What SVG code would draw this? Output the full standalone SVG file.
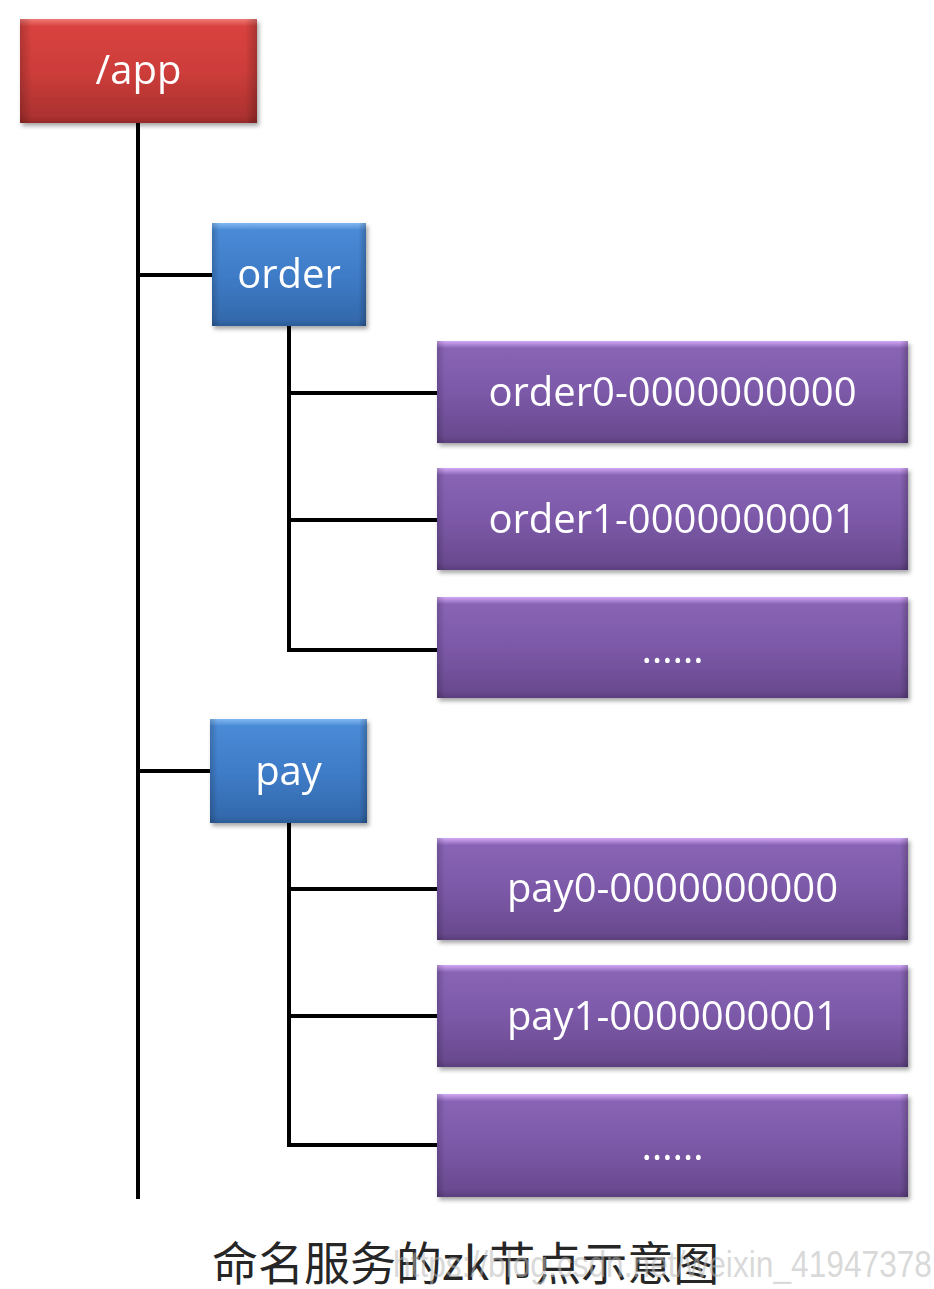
<svg xmlns="http://www.w3.org/2000/svg" width="934" height="1289" viewBox="0 0 934 1289">
  <defs>
    <linearGradient id="gRed" x1="0" y1="0" x2="0" y2="1">
      <stop offset="0" stop-color="#f07a76"/>
      <stop offset="0.07" stop-color="#d9423f"/>
      <stop offset="0.5" stop-color="#cd3d3a"/>
      <stop offset="0.93" stop-color="#ad3230"/>
      <stop offset="1" stop-color="#962a28"/>
    </linearGradient>
    <linearGradient id="gBlue" x1="0" y1="0" x2="0" y2="1">
      <stop offset="0" stop-color="#80b8f0"/>
      <stop offset="0.07" stop-color="#4a8ad6"/>
      <stop offset="0.5" stop-color="#3f7cc8"/>
      <stop offset="0.93" stop-color="#346aae"/>
      <stop offset="1" stop-color="#2c5c98"/>
    </linearGradient>
    <linearGradient id="gPurple" x1="0" y1="0" x2="0" y2="1">
      <stop offset="0" stop-color="#d2a8f6"/>
      <stop offset="0.07" stop-color="#8964b5"/>
      <stop offset="0.5" stop-color="#7c59a8"/>
      <stop offset="0.93" stop-color="#6a4a90"/>
      <stop offset="1" stop-color="#5a3e7c"/>
    </linearGradient>
    <linearGradient id="gSideS" x1="0" y1="0" x2="1" y2="0">
      <stop offset="0" stop-color="#000" stop-opacity="0.18"/>
      <stop offset="0.05" stop-color="#000" stop-opacity="0"/>
      <stop offset="0.95" stop-color="#000" stop-opacity="0"/>
      <stop offset="1" stop-color="#000" stop-opacity="0.22"/>
    </linearGradient>
    <linearGradient id="gSideW" x1="0" y1="0" x2="1" y2="0">
      <stop offset="0" stop-color="#000" stop-opacity="0.18"/>
      <stop offset="0.017" stop-color="#000" stop-opacity="0"/>
      <stop offset="0.983" stop-color="#000" stop-opacity="0"/>
      <stop offset="1" stop-color="#000" stop-opacity="0.22"/>
    </linearGradient>
    <filter id="sh" x="-10%" y="-10%" width="125%" height="130%">
      <feDropShadow dx="2" dy="3" stdDeviation="2" flood-color="#000" flood-opacity="0.35"/>
    </filter>
  </defs>
  <style>
    .lbl { font-family: "Open Sans", "Liberation Sans", sans-serif; font-size: 40px; fill: #ffffff; text-anchor: middle; }
    .red { fill: url(#gRed); }
    .blue { fill: url(#gBlue); }
    .purple { fill: url(#gPurple); }
    .sideS { fill: url(#gSideS); }
    .sideW { fill: url(#gSideW); }
    .conn { stroke: #000; stroke-width: 4; fill: none; stroke-linecap: square; }
    .cap { font-family: "Noto Sans CJK SC", "Noto Sans", sans-serif; font-size: 46px; fill: #262626; }
    .wm { font-family: "Liberation Sans", "DejaVu Sans", sans-serif; font-size: 36px; fill: #b8b8b8; fill-opacity: 0.55; }
  </style>
  <rect x="0" y="0" width="934" height="1289" fill="#ffffff"/>

  <g id="connectors">
    <line class="conn" x1="138" y1="123" x2="138" y2="1197"/>
    <line class="conn" x1="138" y1="275" x2="212" y2="275"/>
    <line class="conn" x1="138" y1="771" x2="210" y2="771"/>
    <line class="conn" x1="289" y1="326" x2="289" y2="650"/>
    <line class="conn" x1="289" y1="393" x2="437" y2="393"/>
    <line class="conn" x1="289" y1="520" x2="437" y2="520"/>
    <line class="conn" x1="289" y1="650" x2="437" y2="650"/>
    <line class="conn" x1="289" y1="823" x2="289" y2="1145"/>
    <line class="conn" x1="289" y1="889" x2="437" y2="889"/>
    <line class="conn" x1="289" y1="1016" x2="437" y2="1016"/>
    <line class="conn" x1="289" y1="1145" x2="437" y2="1145"/>
  </g>

  <g id="node-app" filter="url(#sh)">
    <rect class="red" x="20" y="19" width="237" height="104"/>
    <rect class="sideS" x="20" y="19" width="237" height="104"/>
    <text class="lbl" x="138.5" y="84">/app</text>
  </g>

  <g id="node-order" filter="url(#sh)">
    <rect class="blue" x="212" y="223" width="154" height="103"/>
    <rect class="sideS" x="212" y="223" width="154" height="103"/>
    <text class="lbl" x="289" y="288">order</text>
  </g>

  <g id="node-order0" filter="url(#sh)">
    <rect class="purple" x="437" y="341" width="471" height="102"/>
    <rect class="sideW" x="437" y="341" width="471" height="102"/>
    <text class="lbl" x="672.5" y="406">order0-0000000000</text>
  </g>

  <g id="node-order1" filter="url(#sh)">
    <rect class="purple" x="437" y="468" width="471" height="102"/>
    <rect class="sideW" x="437" y="468" width="471" height="102"/>
    <text class="lbl" x="672.5" y="533">order1-0000000001</text>
  </g>

  <g id="node-order-more" filter="url(#sh)">
    <rect class="purple" x="437" y="597" width="471" height="101"/>
    <rect class="sideW" x="437" y="597" width="471" height="101"/>
    <text class="lbl" x="672.5" y="663">……</text>
  </g>

  <g id="node-pay" filter="url(#sh)">
    <rect class="blue" x="210" y="719" width="157" height="104"/>
    <rect class="sideS" x="210" y="719" width="157" height="104"/>
    <text class="lbl" x="288.5" y="785">pay</text>
  </g>

  <g id="node-pay0" filter="url(#sh)">
    <rect class="purple" x="437" y="838" width="471" height="102"/>
    <rect class="sideW" x="437" y="838" width="471" height="102"/>
    <text class="lbl" x="672.5" y="902">pay0-0000000000</text>
  </g>

  <g id="node-pay1" filter="url(#sh)">
    <rect class="purple" x="437" y="965" width="471" height="102"/>
    <rect class="sideW" x="437" y="965" width="471" height="102"/>
    <text class="lbl" x="672.5" y="1030">pay1-0000000001</text>
  </g>

  <g id="node-pay-more" filter="url(#sh)">
    <rect class="purple" x="437" y="1094" width="471" height="103"/>
    <rect class="sideW" x="437" y="1094" width="471" height="103"/>
    <text class="lbl" x="672.5" y="1160">……</text>
  </g>

  <text class="cap" x="212" y="1280">命名服务的zk节点示意图</text>
  <text class="wm" x="393" y="1277" textLength="539" lengthAdjust="spacingAndGlyphs">https://blog.csdn.net/weixin_41947378</text>
</svg>
